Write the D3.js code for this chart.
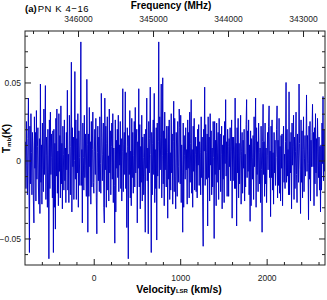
<!DOCTYPE html>
<html>
<head>
<meta charset="utf-8">
<script src="https://cdn.jsdelivr.net/npm/d3@7"></script>
<style>
  body { margin: 0; background: #fff; }
</style>
</head>
<body>
<svg width="327" height="300"></svg>
<script>
// spectrum channels: first channel velocity and channel width (km/s)
const velStart = -790;
const velStep = 5.775;

// Tmb in mK, one value per channel
const tmbMilliK = [
    12, -18, 25, -3, -22, 14, 40, -10, -59, 22, -15, 30, 5, -22, 18, 8, -26, -40, 28, -5,
    18, -26, 32, -12, 9, 21, -17, -28, 14, -34, 49, -14, 10, -28, 24, -6, -20, 33, -9, 15,
    48, -25, 15, 3, -30, 20, -8, -63, 26, -18, 31, -9, 17, 2, -24, 19, -59, 20, -30, 11,
    -44, 27, -10, 33, -21, 6, -29, 30, -7, 16, -24, 35, -15, 11, -31, 22, 4, -19, 26, -13,
    8, -27, 18, -6, 45, -19, 4, -27, 29, 13, -22, 9, 63, -33, 21, -4, 15, -25, 0, 57,
    -12, 26, -25, 14, -8, 30, -30, 19, 2, -16, 24, 76, -16, 7, -40, 24, 2, -19, 29, -11,
    17, -3, -23, 52, 10, -46, 17, -23, 34, -4, 12, -28, 25, -17, 7, 31, -14, -21, 6, 20,
    -9, 27, -24, -47, 5, 22, -13, 15, -20, 28, -2, -21, 43, 15, -13, 4, 24, -30, -40, 40,
    -6, 22, -30, 11, 28, -19, 3, -26, 33, -8, 19, -22, 9, 24, -12, 30, -27, 8, -16, -53,
    26, -33, 13, -5, 20, -11, 29, -20, 10, -3, 25, -18, 14, -26, 6, 46, -20, 10, 18, -9,
    44, -18, 5, -43, 21, 9, -63, 16, -9, 32, -24, 6, -29, 27, -11, 18, -21, 3, 25, -17,
    34, -8, 12, 20, -40, 12, -5, 46, -17, 23, -31, 9, -14, 29, -26, 15, 2, -22, 17, -10,
    -46, 20, -5, 40, -13, 8, -47, 25, -8, 14, 47, 4, -59, 18, -22, 11, 26, -9, 43, -27,
    7, -18, 21, -51, 24, -10, 12, 76, -18, 28, -6, 15, 49, -24, 3, 53, -15, 19, -29, 31,
    -6, 14, -17, 22, 5, -37, 22, -12, 26, -25, 5, -19, 30, -8, 17, -28, 12, 38, -20, 27,
    -10, -31, 18, 8, -23, 25, -4, -14, 33, 21, -15, 29, -27, 10, -8, -46, 24, -30, 16, 3,
    -12, 21, -6, 7, -28, 26, -5, 18, -24, 31, -14, 11, 39, -21, 7, -30, 22, -7, 27, -19,
    4, 15, -20, 9, -24, 20, -3, 23, -16, 12, 5, -22, 28, -11, 15, -26, -55, 20, 6, 47,
    -16, 23, 5, -12, 17, -42, 28, -11, 15, -26, 30, -3, 19, -22, 8, -17, 25, 2, -50, 25,
    -9, 13, -29, 24, -14, 8, 18, -25, 27, -6, 17, -20, 4, 22, -31, 10, -12, 16, -27, 25,
    -2, 39, -10, 12, -23, 20, 9, -23, 14, -4, 21, -13, 6, 26, -37, 15, -13, 15, 8, -18,
    40, -18, 11, -42, 21, -8, 27, -24, 11, -15, 3, 29, -28, 6, 18, -21, 13, -5, 20, -26,
    4, -17, 23, 39, -11, 19, -7, 26, -22, 10, -39, 19, -29, 14, 2, -12, 16, -25, 28, -4,
    14, 40, -30, 21, -9, 12, -20, 24, 5, -15, 8, -27, 22, -6, -46, 12, 36, -9, 12, -23,
    24, -15, 8, -27, 3, 18, -6, 22, 35, -11, 6, -36, 22, -11, 26, -19, 5, -28, 18, -8,
    13, -16, 2, 20, 35, -24, 13, -16, 27, -21, 9, -26, 16, -5, 17, -29, 10, 22, -14, 4,
    -18, 12, 50, -14, 20, -10, 7, -22, 44, -22, 12, -8, 18, -31, 24, -3, 9, 29, -25, 15,
    -18, 6, 31, -9, -27, 17, 3, -14, 49, 11, -6, -34, 26, -14, 19, -24, 7, 28, -20, 1,
    16, -10, 8, 42, -7, 16, -2, -38, 22, -12, 25, -26, 13, -4, 18, 36, -4, 18, -29, 21,
    -15, 30, -8, 14, -23, 27, 6, -11, 15, -19, 9, -33, 10, -19, 24, -2, 41, -13, 20, -7
];

// axis ticks
const velMajorTicks = [0, 1000, 2000];
const velMinorTicks = [-600, -400, -200, 200, 400, 600, 800, 1200, 1400, 1600, 1800, 2200, 2400, 2600];
const freqMajorTicks = [346000, 345000, 344000, 343000];
const freqMinorTicks = [346600, 346400, 346200, 345800, 345600, 345400, 345200, 344800, 344600, 344400,
    344200, 343800, 343600, 343400, 343200, 342800];
const tmbMajorTicks = [-0.05, 0, 0.05];
const tmbMinorTicks = [-0.06, -0.04, -0.03, -0.02, -0.01, 0.01, 0.02, 0.03, 0.04, 0.06, 0.07, 0.08];

const plot = { left: 25, right: 325, top: 31, bottom: 265 };

function drawSpectrum() {
    var svg = d3.select("svg");

    var data = tmbMilliK.map(function(t, i) {
        return { vel: velStart + i * velStep, tmb: t / 1000 };
    });

    var xScale = d3.scaleLinear().domain([-795, 2675]).range([plot.left, plot.right]),
        fScale = d3.scaleLinear().domain([346707, 342707]).range([plot.left, plot.right]),
        yScale = d3.scaleLinear().domain([-0.067, 0.083]).range([plot.bottom, plot.top]);

    svg.append("clipPath").attr("id", "clip")
        .append("rect")
        .attr("x", plot.left).attr("y", plot.top)
        .attr("width", plot.right - plot.left).attr("height", plot.bottom - plot.top);

    // spectrum line
    var line = d3.line()
        .x(function(d) { return xScale(d.vel); })
        .y(function(d) { return yScale(d.tmb); });

    svg.append("path")
        .datum(data)
        .attr("clip-path", "url(#clip)")
        .attr("d", line)
        .style("fill", "none")
        .style("stroke", "#0000c4")
        .style("stroke-width", "0.95");

    var tickFont = function(g) {
        g.selectAll("text")
            .style("font-family", "Liberation Sans, Arial, sans-serif")
            .style("font-size", "8.5px")
            .attr("fill", "#222");
        g.selectAll("line").attr("stroke", "#222");
        g.select(".domain").remove();
    };

    // bottom axis (velocity)
    svg.append("g")
        .attr("transform", "translate(0," + plot.bottom + ")")
        .call(d3.axisBottom(xScale).tickValues(velMajorTicks).tickSize(-6).tickPadding(10).tickFormat(d3.format("d")))
        .call(tickFont);
    svg.append("g")
        .attr("transform", "translate(0," + plot.bottom + ")")
        .call(d3.axisBottom(xScale).tickValues(velMinorTicks).tickSize(-3).tickFormat(""))
        .call(tickFont);

    // top axis (frequency)
    svg.append("g")
        .attr("transform", "translate(0," + plot.top + ")")
        .call(d3.axisTop(fScale).tickValues(freqMajorTicks).tickSize(-6).tickPadding(9).tickFormat(d3.format("d")))
        .call(tickFont);
    svg.append("g")
        .attr("transform", "translate(0," + plot.top + ")")
        .call(d3.axisTop(fScale).tickValues(freqMinorTicks).tickSize(-3).tickFormat(""))
        .call(tickFont);

    // left and right axes (Tmb)
    svg.append("g")
        .attr("transform", "translate(" + plot.left + ",0)")
        .call(d3.axisLeft(yScale).tickValues(tmbMajorTicks).tickSize(-6).tickPadding(4)
            .tickFormat(function(d) { return d === 0 ? "0" : d3.format(".2f")(d); }))
        .call(tickFont);
    svg.append("g")
        .attr("transform", "translate(" + plot.left + ",0)")
        .call(d3.axisLeft(yScale).tickValues(tmbMinorTicks).tickSize(-3).tickFormat(""))
        .call(tickFont);
    svg.append("g")
        .attr("transform", "translate(" + plot.right + ",0)")
        .call(d3.axisRight(yScale).tickValues(tmbMajorTicks).tickSize(-6).tickFormat(""))
        .call(tickFont);
    svg.append("g")
        .attr("transform", "translate(" + plot.right + ",0)")
        .call(d3.axisRight(yScale).tickValues(tmbMinorTicks).tickSize(-3).tickFormat(""))
        .call(tickFont);

    // frame
    svg.append("rect")
        .attr("x", plot.left).attr("y", plot.top)
        .attr("width", plot.right - plot.left).attr("height", plot.bottom - plot.top)
        .style("fill", "none")
        .style("stroke", "#222")
        .style("stroke-width", "1");

    // panel label
    var title = svg.append("text")
        .attr("x", 25)
        .attr("y", 12)
        .style("font-family", "Liberation Sans, Arial, sans-serif")
        .style("font-size", "9.5px");
    title.append("tspan").style("font-weight", "bold").text("(a)");
    title.append("tspan").attr("dx", 1).style("letter-spacing", "0.6px").text("PN K 4\u221216");

    // top axis title
    svg.append("text")
        .attr("x", 171)
        .attr("y", 9)
        .attr("text-anchor", "middle")
        .style("font-family", "Liberation Sans, Arial, sans-serif")
        .style("font-weight", "bold")
        .style("font-size", "10px")
        .text("Frequency (MHz)");

    // X label
    var xl = svg.append("text")
        .attr("x", 179)
        .attr("y", 293)
        .attr("text-anchor", "middle")
        .style("font-family", "Liberation Sans, Arial, sans-serif")
        .style("font-weight", "bold")
        .style("font-size", "10.5px");
    xl.append("tspan").text("Velocity");
    xl.append("tspan").style("font-size", "6px").text("LSR");
    xl.append("tspan").text(" (km/s)");

    // Y label
    var yl = svg.append("text")
        .attr("text-anchor", "start")
        .attr("transform", "translate(9.5,153)rotate(-90)")
        .style("font-family", "Liberation Sans, Arial, sans-serif")
        .style("font-weight", "bold")
        .style("font-size", "10px");
    yl.append("tspan").text("T");
    yl.append("tspan").style("font-size", "6px").attr("dy", 1).text("mb");
    yl.append("tspan").attr("dy", -1).text("(K)");
}

drawSpectrum();
</script>
</body>
</html>
